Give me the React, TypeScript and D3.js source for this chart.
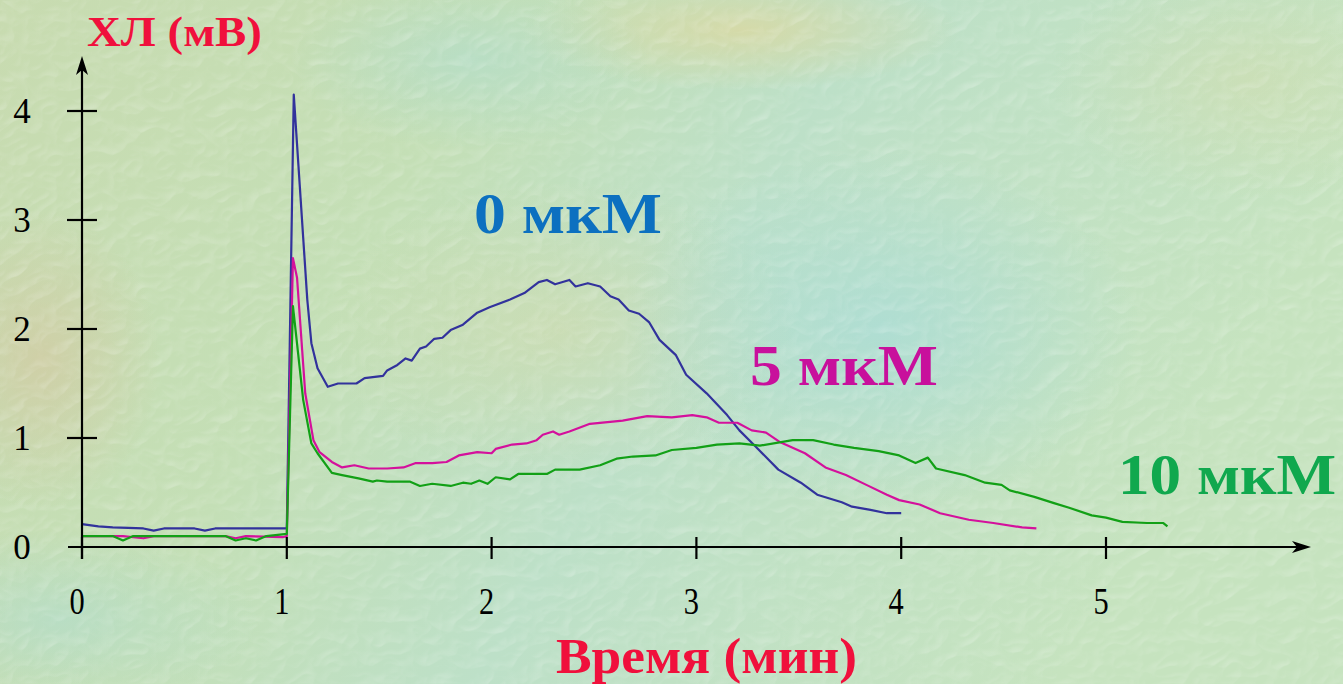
import React from "react";
import * as d3 from "d3";

// time (min), chemiluminescence (mV)
const blueX = [0, 0.08, 0.15, 0.3, 0.35, 0.4, 0.55, 0.6, 0.65, 0.98, 1.0, 1.034, 1.10, 1.12, 1.15, 1.20, 1.25, 1.34, 1.38, 1.47, 1.49, 1.54, 1.58, 1.61, 1.65, 1.68, 1.72, 1.76, 1.80, 1.86, 1.93, 1.99, 2.09, 2.16, 2.23, 2.27, 2.31, 2.38, 2.41, 2.47, 2.53, 2.58, 2.62, 2.67, 2.72, 2.77, 2.82, 2.90, 2.95, 3.05, 3.15, 3.21, 3.29, 3.40, 3.51, 3.59, 3.71, 3.76, 3.85, 3.93, 4.00];
const blueY = [0.21, 0.19, 0.18, 0.17, 0.15, 0.17, 0.17, 0.15, 0.17, 0.17, 0.17, 4.15, 2.27, 1.87, 1.64, 1.47, 1.50, 1.50, 1.55, 1.57, 1.62, 1.67, 1.73, 1.71, 1.82, 1.84, 1.91, 1.92, 1.99, 2.04, 2.15, 2.20, 2.27, 2.33, 2.43, 2.45, 2.41, 2.45, 2.39, 2.42, 2.39, 2.30, 2.27, 2.17, 2.14, 2.06, 1.90, 1.76, 1.58, 1.41, 1.21, 1.07, 0.92, 0.71, 0.59, 0.48, 0.41, 0.37, 0.34, 0.31, 0.31];

const magX = [0, 0.2, 0.3, 0.35, 0.7, 0.75, 0.8, 0.98, 1.0, 1.03, 1.05, 1.09, 1.13, 1.16, 1.22, 1.27, 1.33, 1.40, 1.49, 1.57, 1.63, 1.71, 1.78, 1.84, 1.93, 2.00, 2.02, 2.10, 2.17, 2.22, 2.25, 2.30, 2.33, 2.38, 2.48, 2.64, 2.76, 2.88, 2.98, 3.05, 3.11, 3.20, 3.27, 3.34, 3.41, 3.53, 3.63, 3.73, 3.83, 3.93, 3.99, 4.09, 4.19, 4.33, 4.45, 4.59, 4.66];
const magY = [0.10, 0.10, 0.08, 0.10, 0.10, 0.08, 0.10, 0.09, 0.10, 2.65, 2.47, 1.41, 0.98, 0.87, 0.78, 0.73, 0.75, 0.72, 0.72, 0.73, 0.77, 0.77, 0.78, 0.84, 0.87, 0.86, 0.90, 0.94, 0.95, 0.98, 1.03, 1.06, 1.03, 1.06, 1.13, 1.16, 1.20, 1.19, 1.21, 1.19, 1.14, 1.14, 1.07, 1.05, 0.96, 0.86, 0.73, 0.66, 0.57, 0.48, 0.43, 0.39, 0.31, 0.25, 0.22, 0.18, 0.17];

const greenX = [0, 0.15, 0.2, 0.25, 0.5, 0.7, 0.75, 0.8, 0.85, 0.9, 1.0, 1.03, 1.08, 1.12, 1.15, 1.22, 1.27, 1.35, 1.42, 1.44, 1.49, 1.60, 1.65, 1.71, 1.80, 1.86, 1.90, 1.94, 1.98, 2.02, 2.09, 2.13, 2.27, 2.31, 2.43, 2.53, 2.61, 2.69, 2.80, 2.88, 3.00, 3.10, 3.21, 3.31, 3.47, 3.57, 3.67, 3.77, 3.89, 3.99, 4.07, 4.13, 4.17, 4.31, 4.41, 4.49, 4.53, 4.65, 4.75, 4.82, 4.93, 5.00, 5.08, 5.20, 5.28, 5.30];
const greenY = [0.10, 0.10, 0.06, 0.10, 0.10, 0.10, 0.06, 0.08, 0.06, 0.10, 0.12, 2.21, 1.35, 0.95, 0.86, 0.68, 0.66, 0.63, 0.60, 0.61, 0.60, 0.60, 0.56, 0.58, 0.56, 0.59, 0.58, 0.61, 0.58, 0.64, 0.62, 0.67, 0.67, 0.71, 0.71, 0.75, 0.81, 0.83, 0.84, 0.89, 0.91, 0.94, 0.95, 0.93, 0.98, 0.98, 0.94, 0.91, 0.88, 0.84, 0.77, 0.82, 0.72, 0.66, 0.59, 0.57, 0.52, 0.46, 0.40, 0.36, 0.29, 0.27, 0.23, 0.22, 0.22, 0.19];

const xTicks = [0, 1, 2, 3, 4, 5];
const yTicks = [1, 2, 3, 4];
const yTickLabels = ["0", "1", "2", "3", "4"];
const seriesLabels = ["0 мкМ", "5 мкМ", "10 мкМ"];
const yTitle = "ХЛ (мВ)";
const xTitle = "Время (мин)";

const W = 1343;
const H = 684;

export default function App() {
  const x = d3.scaleLinear().domain([0, 5]).range([82, 1106]);
  const y = d3.scaleLinear().domain([0, 4]).range([547, 111]);
  const line = d3
    .line<[number, number]>()
    .x((d) => x(d[0]))
    .y((d) => y(d[1]));
  const zip = (a: number[], b: number[]) => a.map((v, i) => [v, b[i]] as [number, number]);

  const series = [
    { data: zip(blueX, blueY), color: "#32329c" },
    { data: zip(magX, magY), color: "#d4109c" },
    { data: zip(greenX, greenY), color: "#12a016" },
  ];

  const serif = "'Liberation Serif', 'DejaVu Serif', 'Times New Roman', serif";
  const x0 = x(0);
  const y0 = y(0);

  return (
    <svg
      width={W}
      height={H}
      style={{ position: "fixed", left: 0, top: 0, display: "block" }}
    >
      <defs>
        <linearGradient id="bgLin" x1="0" y1="0" x2="1" y2="0.3">
          <stop offset="0" stopColor="#c8dbb0" />
          <stop offset="0.35" stopColor="#c4dfb6" />
          <stop offset="0.6" stopColor="#bde0c8" />
          <stop offset="1" stopColor="#c6e3bf" />
        </linearGradient>
        <radialGradient id="patchY" cx="0.5" cy="0.5" r="0.5">
          <stop offset="0" stopColor="#dcd8a0" stopOpacity="0.75" />
          <stop offset="1" stopColor="#dcd8a0" stopOpacity="0" />
        </radialGradient>
        <radialGradient id="patchB" cx="0.5" cy="0.5" r="0.5">
          <stop offset="0" stopColor="#a8dcd8" stopOpacity="0.7" />
          <stop offset="1" stopColor="#a8dcd8" stopOpacity="0" />
        </radialGradient>
        <radialGradient id="patchT" cx="0.5" cy="0.5" r="0.5">
          <stop offset="0" stopColor="#d4c8a0" stopOpacity="0.65" />
          <stop offset="1" stopColor="#d4c8a0" stopOpacity="0" />
        </radialGradient>
        <filter id="emboss" x="0" y="0" width="100%" height="100%">
          <feTurbulence type="turbulence" baseFrequency="0.035 0.045" numOctaves="2" seed="7" result="noise" />
          <feDiffuseLighting in="noise" surfaceScale="2.4" lightingColor="#ffffff" result="lit">
            <feDistantLight azimuth="235" elevation="55" />
          </feDiffuseLighting>
          <feColorMatrix
            in="lit"
            type="matrix"
            values="0 0 0 0 1  0 0 0 0 1  0 0 0 0 1  -1.2 0 0 0 1.05"
          />
        </filter>
      </defs>

      <rect x={0} y={0} width={W} height={H} fill="url(#bgLin)" />
      <ellipse cx={740} cy={30} rx={220} ry={60} fill="url(#patchY)" />
      <ellipse cx={470} cy={60} rx={180} ry={90} fill="url(#patchB)" opacity={0.6} />
      <ellipse cx={560} cy={330} rx={240} ry={150} fill="url(#patchY)" opacity={0.5} />
      <ellipse cx={40} cy={360} rx={120} ry={150} fill="url(#patchT)" />
      <ellipse cx={880} cy={330} rx={260} ry={180} fill="url(#patchB)" />
      <ellipse cx={60} cy={620} rx={200} ry={90} fill="url(#patchB)" opacity={0.6} />
      <ellipse cx={1250} cy={80} rx={200} ry={120} fill="url(#patchY)" opacity={0.4} />
      <rect x={0} y={0} width={W} height={H} filter="url(#emboss)" opacity={0.42} />

      {/* series */}
      {series.map((s, i) => (
        <path
          key={i}
          d={line(s.data) || ""}
          fill="none"
          stroke={s.color}
          strokeWidth={2.2}
          strokeLinejoin="round"
        />
      ))}

      {/* axes */}
      <g stroke="#000" strokeWidth={2.2}>
        <line x1={68} y1={y0} x2={1300} y2={y0} />
        <line x1={x0} y1={559} x2={x0} y2={66} />
        {xTicks.map((t) => (
          <line key={"xt" + t} x1={x(t)} y1={537} x2={x(t)} y2={559} />
        ))}
        {yTicks.map((t) => (
          <line key={"yt" + t} x1={67} y1={y(t)} x2={97} y2={y(t)} />
        ))}
      </g>
      <path d={`M1311,${y0} L1292,${y0 - 6} L1297,${y0} L1292,${y0 + 6} Z`} fill="#000" />
      <path d={`M${x0},56 L${x0 - 6},75 L${x0},70 L${x0 + 6},75 Z`} fill="#000" />

      {/* tick labels */}
      <g fontFamily={serif} fill="#000">
        {xTicks.map((t) => {
          const cx = x(t) - 5;
          return (
            <text
              key={"xl" + t}
              x={0}
              y={614}
              fontSize={38}
              textAnchor="middle"
              transform={`translate(${cx},0) scale(0.8,1)`}
            >
              {String(t)}
            </text>
          );
        })}
        {yTickLabels.map((l, i) => (
          <text key={"yl" + l} x={22} y={y(i) + 12} fontSize={35} textAnchor="middle">
            {l}
          </text>
        ))}
      </g>

      {/* titles */}
      <text x={87} y={46} fontFamily={serif} fontWeight="bold" fontSize={42} fill="#f0103c" textLength={175} lengthAdjust="spacingAndGlyphs">
        {yTitle}
      </text>
      <text x={556} y={673} fontFamily={serif} fontWeight="bold" fontSize={50} fill="#f0103c" textLength={301} lengthAdjust="spacingAndGlyphs">
        {xTitle}
      </text>

      {/* series labels */}
      <text x={474} y={233} fontFamily={serif} fontWeight="bold" fontSize={58} fill="#0c70c0" textLength={188} lengthAdjust="spacingAndGlyphs">
        {seriesLabels[0]}
      </text>
      <text x={750} y={385} fontFamily={serif} fontWeight="bold" fontSize={58} fill="#c8109c" textLength={188} lengthAdjust="spacingAndGlyphs">
        {seriesLabels[1]}
      </text>
      <text x={1118} y={494} fontFamily={serif} fontWeight="bold" fontSize={58} fill="#10a84e" textLength={218} lengthAdjust="spacingAndGlyphs">
        {seriesLabels[2]}
      </text>
    </svg>
  );
}
